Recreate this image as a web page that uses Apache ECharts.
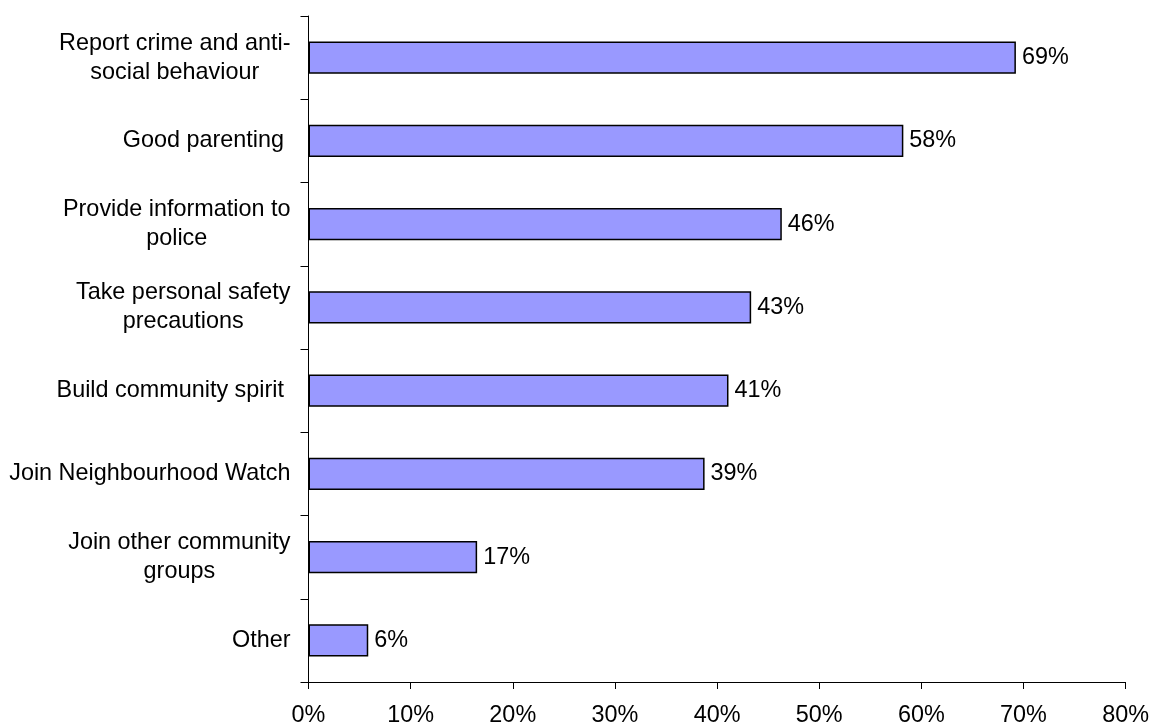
<!DOCTYPE html>
<html>
<head>
<meta charset="utf-8">
<script src="https://cdn.jsdelivr.net/npm/echarts@6/dist/echarts.min.js"></script>
<style>
html,body{margin:0;padding:0;background:#fff;}
#c{width:1152px;height:727px;}
</style>
</head>
<body>
<div id="c"></div>
<script>
var categories = [
  "Report crime and anti-\nsocial behaviour",
  "Good parenting ",
  "Provide information to\npolice",
  "Take personal safety\nprecautions",
  "Build community spirit ",
  "Join Neighbourhood Watch",
  "Join other community\ngroups",
  "Other"
];
var values = [69.26, 58.24, 46.34, 43.34, 41.12, 38.78, 16.51, 5.85];
var xTicks = [0, 10, 20, 30, 40, 50, 60, 70, 80];

var chart = echarts.init(document.getElementById('c'));
var font = "'Liberation Sans', Arial, sans-serif";
var fs = 23.4;
chart.setOption({
  animation: false,
  backgroundColor: '#ffffff',
  grid: {left: 308.5, right: 25.5, top: 16, bottom: 41, containLabel: false},
  xAxis: {
    type: 'value',
    min: xTicks[0],
    max: xTicks[xTicks.length - 1],
    interval: 10,
    splitLine: {show: false},
    axisLine: {show: true, lineStyle: {color: '#000', width: 1}},
    axisTick: {show: true, length: 7, inside: false, lineStyle: {color: '#000'}},
    axisLabel: {
      margin: 22,
      color: '#000',
      fontFamily: font,
      fontSize: fs,
      formatter: function (v) { return v + '%'; }
    }
  },
  yAxis: {
    type: 'category',
    inverse: true,
    data: categories,
    axisLine: {show: true, lineStyle: {color: '#000', width: 1}},
    axisTick: {show: true, length: 8, alignWithLabel: false, lineStyle: {color: '#000'}},
    axisLabel: {
      margin: 18,
      color: '#000',
      fontFamily: font,
      fontSize: fs,
      lineHeight: 29,
      formatter: function (v) {
        return v.split('\n').map(function (s) { return '{c|' + s + '}'; }).join('\n');
      },
      rich: {c: {align: 'center', fontFamily: font, fontSize: fs, lineHeight: 29, color: '#000'}}
    }
  },
  series: [{
    type: 'bar',
    data: values,
    barWidth: '38.7%',
    itemStyle: {color: '#9999FF', borderColor: '#000', borderWidth: 1.5},
    label: {
      show: true,
      position: 'right',
      distance: 6,
      color: '#000',
      fontFamily: font,
      fontSize: fs,
      formatter: function (p) { return Math.round(p.value) + '%'; }
    }
  }]
});
</script>
</body>
</html>
